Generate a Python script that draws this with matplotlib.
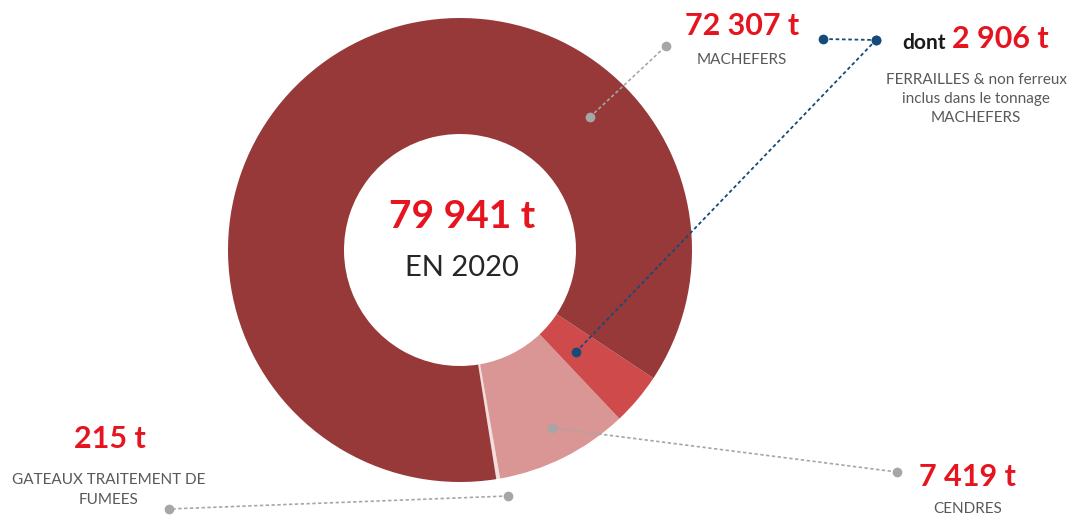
import matplotlib
matplotlib.use('Agg')
from matplotlib import pyplot as plt

W, H = 1083, 517

# data (tonnes, 2020)
labels = ['GATEAUX TRAITEMENT DE\nFUMEES', 'CENDRES', 'FERRAILLES', 'MACHEFERS']
machefers = 72307
ferrailles = 2906
cendres = 7419
gateaux = 215
total = machefers + cendres + gateaux
values = [gateaux, cendres, ferrailles, machefers - ferrailles]
colors = ['#F3DEDD', '#D99694', '#CF4A4A', '#963938']

RED = '#E5141E'
GREY = '#595959'
DOT = '#A6A6A6'
BLUE = '#144B7A'

plt.rcParams['font.family'] = ['Lato', 'DejaVu Sans']

def fmt(v):
    return f'{v:,}'.replace(',', ' ') + ' t'

def Y(y):
    return H - y

fig = plt.figure(figsize=(W/100, H/100), dpi=100)
ax = fig.add_axes([0, 0, 1, 1])

ax.pie(values, colors=colors, center=(460, Y(250)), radius=232,
       startangle=-81, counterclock=True, frame=True,
       wedgeprops=dict(width=116, linewidth=0))

ax.set_xlim(0, W)
ax.set_ylim(0, H)
ax.set_aspect('equal')
ax.axis('off')

# centre text
ax.text(462, Y(217), fmt(total), color=RED, fontsize=28, fontweight='bold', ha='center', va='center')
ax.text(462, Y(268), 'EN 2020', color='#262626', fontsize=21, ha='center', va='center')

def leader(p1, p2, color, lw=1.2):
    ax.plot([p1[0], p2[0]], [Y(p1[1]), Y(p2[1])], ls=(0, (2, 1.5)), color=color, lw=lw)
    ax.plot([p1[0], p2[0]], [Y(p1[1]), Y(p2[1])], 'o', color=color, ms=7, mec='none')

# machefers
leader((590, 117), (666, 46), DOT)
ax.text(742, Y(26), fmt(machefers), color=RED, fontsize=22, fontweight='bold', ha='center', va='center')
ax.text(742, Y(60), 'MACHEFERS', color=GREY, fontsize=11, ha='center', va='center')

# ferrailles
leader((576, 352), (876, 40), BLUE, lw=1.3)
leader((823, 39), (876, 40), BLUE, lw=1.3)
ax.text(924, Y(43), 'dont', color='#1A1A1A', fontsize=15, fontweight='bold', ha='center', va='center')
ax.text(1000, Y(39), fmt(ferrailles), color=RED, fontsize=22, fontweight='bold', ha='center', va='center')
ax.text(976, Y(99), 'FERRAILLES & non ferreux\ninclus dans le tonnage\nMACHEFERS', color=GREY,
        fontsize=11, ha='center', va='center', linespacing=1.45)

# cendres
leader((552, 428), (897, 472), DOT)
ax.text(967, Y(477), fmt(cendres), color=RED, fontsize=22, fontweight='bold', ha='center', va='center')
ax.text(968, Y(509), 'CENDRES', color=GREY, fontsize=11, ha='center', va='center')

# gateaux
leader((508, 496), (169, 509), DOT)
ax.text(110, Y(439), fmt(gateaux), color=RED, fontsize=22, fontweight='bold', ha='center', va='center')
ax.text(109, Y(490), labels[0], color=GREY, fontsize=11, ha='center', va='center', linespacing=1.5)

fig.savefig('out.png', dpi=100)
